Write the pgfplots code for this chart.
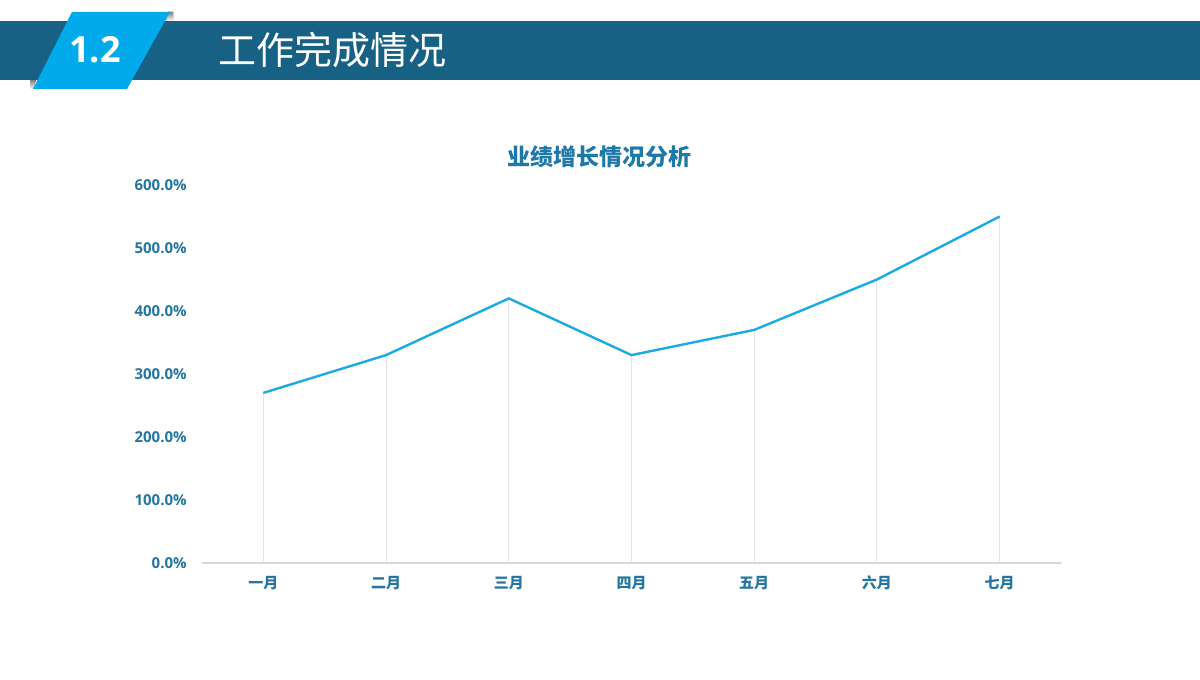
\documentclass[border=0pt]{standalone}
\usepackage{pgfplots}
\pgfplotsset{compat=1.18}
\usepackage{fontspec}
\setmainfont{Open Sans}
\newfontfamily\cjk{Noto Sans CJK SC}
\definecolor{barc}{RGB}{22,97,132}
\definecolor{para}{RGB}{0,170,235}
\definecolor{shade}{RGB}{95,95,95}
\definecolor{lab}{RGB}{36,118,160}
\definecolor{ttl}{RGB}{30,120,170}
\definecolor{linec}{RGB}{26,171,228}
\definecolor{gridc}{RGB}{217,217,217}
\definecolor{dropc}{RGB}{228,228,228}
\begin{document}
\begin{tikzpicture}[x=1pt,y=1pt]
\fill[white] (0,0) rectangle (600,340);
% header bar
\fill[barc] (0,300) rectangle (600,329.5);
% shadows
\fill[shade] (84,334) -- (86.5,334) -- (86.5,329.5) -- (83,329.5) -- cycle;
\fill[shade] (15,300) -- (18,300) -- (16.5,295.5) -- (15,295.5) -- cycle;
\fill[para] (36,334) -- (85,334) -- (63.5,295.5) -- (16.5,295.5) -- cycle;
\node[text=white, font=\fontsize{18}{20}\selectfont\bfseries] at (47.5,315) {1.2};
\node[text=white, font=\cjk\fontsize{19}{21}\selectfont] at (166,315) {工作完成情况};
\node[text=ttl, font=\cjk\bfseries\fontsize{11.5}{13}\selectfont] at (299.5,261.5) {业绩增长情况分析};
\begin{axis}[
  at={(101pt,58.5pt)}, anchor=south west,
  scale only axis, width=429.5pt, height=189pt,
  xmin=-0.5, xmax=6.5, ymin=0, ymax=600,
  axis y line=none,
  axis x line*=bottom,
  x axis line style={gridc, line width=0.6pt, -},
  xtick={0,1,2,3,4,5,6},
  xticklabels={一月,二月,三月,四月,五月,六月,七月},
  major tick length=0pt,
  xticklabel style={font=\cjk\bfseries\fontsize{7.5}{9}\selectfont, text=lab, yshift=-3pt},
  ytick={0,100,200,300,400,500,600},
  yticklabels={0.0\%,100.0\%,200.0\%,300.0\%,400.0\%,500.0\%,600.0\%},
  clip=false,
]
\addplot[ycomb, dropc, line width=0.5pt, mark=none] coordinates {
 (0,270) (1,330) (2,420) (3,330) (4,370) (5,450) (6,550)};
\addplot[linec, line width=1.2pt, mark=none] coordinates {
 (0,270) (1,330) (2,420) (3,330) (4,370) (5,450) (6,550)};
\end{axis}
% y tick labels
\foreach \v/\t in {0/0.0\%,100/100.0\%,200/200.0\%,300/300.0\%,400/400.0\%,500/500.0\%,600/600.0\%}{
  \node[anchor=east, inner sep=0pt, text=lab, font=\bfseries\fontsize{7.5}{9}\selectfont] at (93.5, 58.5+\v*0.315) {\t};
}
\end{tikzpicture}
\end{document}
